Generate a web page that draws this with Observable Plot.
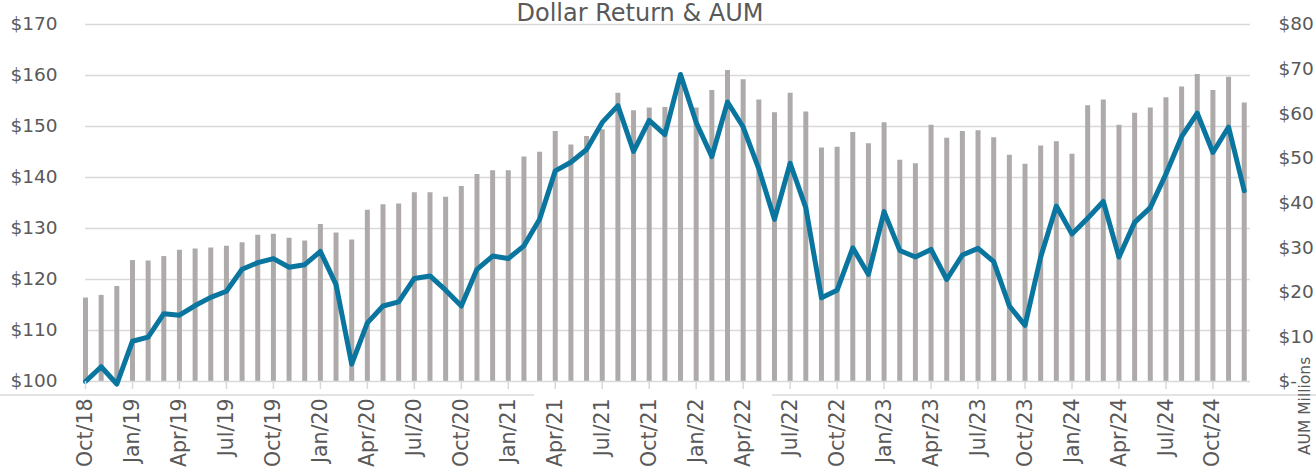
<!DOCTYPE html>
<html>
<head>
<meta charset="utf-8">
<script src="https://cdn.jsdelivr.net/npm/d3@7"></script>
<script src="https://cdn.jsdelivr.net/npm/@observablehq/plot@0.6"></script>
<style>
  body { margin: 0; background: #fff; }
  #wrap { position: relative; width: 1316px; height: 469px; overflow: hidden; font-family: "DejaVu Sans", sans-serif; color: #595959; }
  #chart { position: absolute; left: 0; top: 0; }
  #title { position: absolute; left: 340px; width: 600px; top: 1px; text-align: center; font-size: 24px; line-height: 1; white-space: nowrap; }
  #aumLabel { position: absolute; left: 1298px; top: 455px; font-size: 15.5px; line-height: 1; white-space: nowrap; transform-origin: 0 0; transform: rotate(-90deg); }
  .hline { position: absolute; top: 394px; height: 2px; background: #e3e3e3; }
</style>
</head>
<body>
<div id="wrap">
  <div id="chart"></div>
  <div class="hline" style="left:0;width:534px"></div>
  <div class="hline" style="left:772px;width:544px"></div>
  <div id="title">Dollar Return &amp; AUM</div>
  <div id="aumLabel">AUM Millions</div>
</div>
<script>
// Month-end tick labels (every 3 months, starting Oct/18)
const tickLabels = ["Oct/18","Jan/19","Apr/19","Jul/19","Oct/19","Jan/20","Apr/20","Jul/20","Oct/20",
  "Jan/21","Apr/21","Jul/21","Oct/21","Jan/22","Apr/22","Jul/22","Oct/22","Jan/23","Apr/23","Jul/23",
  "Oct/23","Jan/24","Apr/24","Jul/24","Oct/24"];

// Dollar return (left axis), monthly Oct/18 .. Dec/24
const dollarReturn = [
  100.0, 102.9, 99.5, 107.9, 108.7, 113.3, 113.0, 114.9, 116.5, 117.7,
  122.0, 123.3, 124.1, 122.4, 122.9, 125.5, 119.0, 103.4, 111.5, 114.8,
  115.6, 120.2, 120.7, 117.9, 114.8, 122.0, 124.6, 124.1, 126.6, 131.8,
  141.3, 143.0, 145.5, 150.8, 154.1, 145.1, 151.2, 148.4, 160.2, 150.8,
  144.1, 154.8, 149.9, 141.7, 131.8, 142.8, 134.1, 116.4, 117.9, 126.2,
  121.0, 133.3, 125.7, 124.4, 125.9, 120.0, 124.8, 126.1, 123.5, 114.8,
  111.0, 124.4, 134.4, 128.9, 132.0, 135.3, 124.4, 131.2, 134.1, 140.7,
  148.0, 152.6, 144.9, 149.9, 137.4
];

// AUM in millions (right axis), monthly Oct/18 .. Dec/24
const aumMillions = [
  18.7, 19.3, 21.3, 27.1, 27.0, 28.0, 29.4, 29.7, 29.9, 30.3,
  31.1, 32.8, 33.0, 32.1, 31.5, 35.2, 33.3, 31.7, 38.4, 39.6,
  39.8, 42.3, 42.3, 41.3, 43.7, 46.4, 47.2, 47.2, 50.3, 51.4,
  56.0, 53.0, 54.9, 56.4, 64.6, 60.7, 61.3, 61.4, 68.0, 61.3,
  65.2, 69.7, 67.6, 63.1, 60.2, 64.6, 60.4, 52.3, 52.5, 55.8,
  53.3, 58.0, 49.6, 48.8, 57.4, 54.5, 56.0, 56.2, 54.6, 50.7,
  48.7, 52.8, 53.7, 50.9, 61.8, 63.1, 57.4, 60.1, 61.3, 63.6,
  66.0, 68.8, 65.2, 68.2, 62.4
];

const leftTicks = [100, 110, 120, 130, 140, 150, 160, 170];
const leftLabels = ["$100","$110","$120","$130","$140","$150","$160","$170"];
const rightTicks = [0, 10, 20, 30, 40, 50, 60, 70, 80];
const rightLabels = ["$-","$10","$20","$30","$40","$50","$60","$70","$80"];

// map right-axis value into the left-axis domain (0..80 -> 100..170)
const toLeft = r => 100 + r * 70 / 80;
const idx = d3.range(dollarReturn.length);
const textColor = "#595959";
const lineGray = "#d9d9d9";

const chart = Plot.plot({
  width: 1316,
  height: 469,
  marginTop: 24,
  marginBottom: 88,
  marginLeft: 85,
  marginRight: 66,
  style: { fontFamily: "DejaVu Sans, sans-serif", background: "transparent", overflow: "visible" },
  x: { type: "linear", domain: [0, 74.4] },
  y: { domain: [100, 170] },
  marks: [
    Plot.gridY(leftTicks.slice(1), { stroke: lineGray, strokeOpacity: 1, strokeWidth: 1.5 }),
    Plot.ruleX(idx, { x: i => i, y1: 100, y2: i => toLeft(aumMillions[i]), stroke: "#aeaaaa", strokeWidth: 5 }),
    Plot.ruleY([100], { stroke: lineGray, strokeWidth: 1.5 }),
    Plot.line(idx, { x: i => i, y: i => dollarReturn[i], stroke: "#0a76a0", strokeWidth: 5, strokeLinejoin: "round", strokeLinecap: "round" }),
    Plot.axisY(leftTicks, { anchor: "left", tickSize: 0, tickPadding: 28, tickFormat: d => leftLabels[leftTicks.indexOf(d)], fontSize: 18.5, fill: textColor, label: null }),
    Plot.axisY(rightTicks.map(toLeft), { anchor: "right", tickSize: 0, tickPadding: 28, tickFormat: d => rightLabels[Math.round((d - 100) * 80 / 70 / 10)], fontSize: 18.5, fill: textColor, label: null }),
    Plot.axisX(tickLabels.map((_, k) => k * 3), { anchor: "bottom", tickSize: 8, tickPadding: 9, stroke: lineGray, strokeWidth: 1.5, tickRotate: -90, tickFormat: d => tickLabels[Math.round(d / 3)], fontSize: 20.5, fill: textColor, label: null })
  ]
});
document.getElementById("chart").appendChild(chart);
</script>
</body>
</html>
